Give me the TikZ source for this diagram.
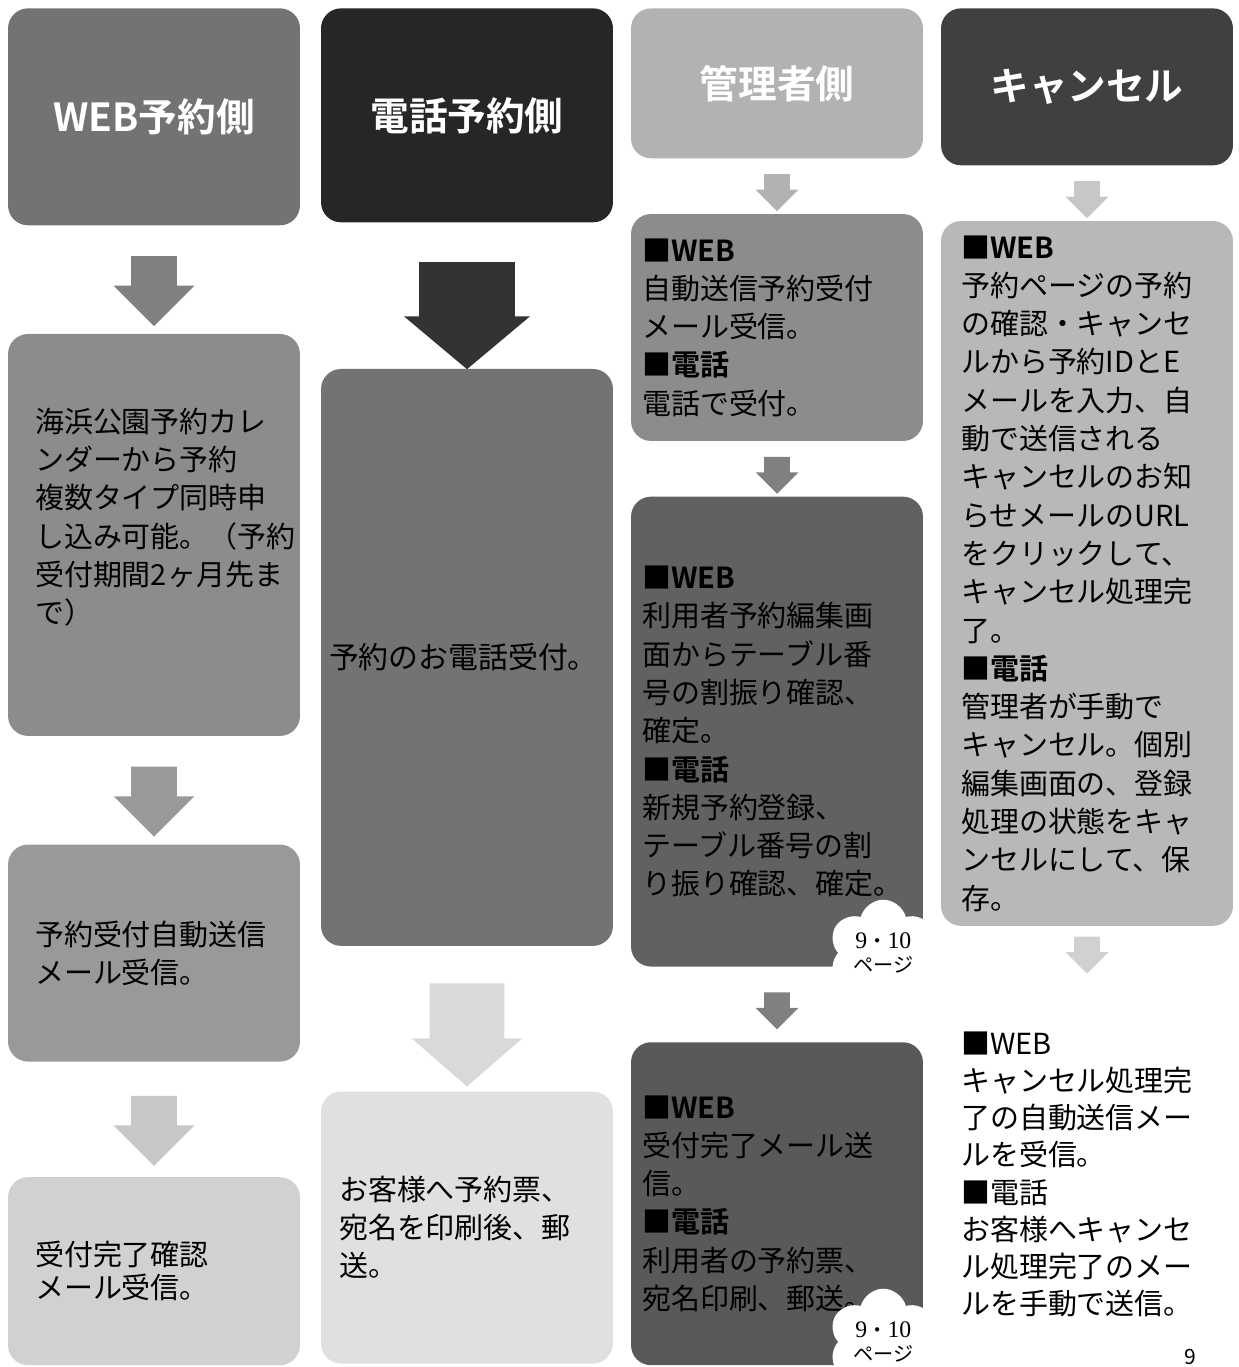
\documentclass[tikz,border=0pt]{standalone}
\usepackage{fontspec}
\setmainfont{Noto Sans CJK JP}[BoldFont={Noto Sans CJK JP Bold}]
\newfontfamily\pagefont{Liberation Serif}
\usetikzlibrary{ % tikz packages
    positioning,calc,
    shapes.arrows,shapes.symbols
}
\tikzset{
    head/.style={
        rounded corners=.4cm,
        minimum width=5.84cm,
        anchor=north,
        text=white,
        font=\fontsize{22}{26}\selectfont\bfseries
    },
    box/.style={
        rounded corners=.4cm,
        minimum width=5.84cm,
        inner xsep=0pt, inner ysep=0pt,
        text width=#1,
        align=left,
        font=\fontsize{16.5}{21.8}\selectfont
    },
    arr/.style={
        single arrow,
        shape border rotate=270,
        inner ysep=0pt
    },
    arrM/.style={arr, inner xsep=.45cm, minimum height=1.4cm, single arrow head extend=.35cm},
    arrL/.style={arr, inner xsep=.95cm, minimum height=2.14cm, single arrow head extend=.3cm, single arrow tip angle=100},
    arrS/.style={arr, inner xsep=.25cm, minimum height=.74cm, single arrow head extend=.17cm},
    pagecloud/.style={
        cloud, cloud puffs=6,
        fill=white, inner sep=0pt,
        minimum width=2.2cm, minimum height=1.6cm,
        align=center,
        font=\fontsize{11.5}{13.5}\selectfont
    }
}
\newcommand{\pagetag}{{\pagefont\fontsize{13.5}{13.5}\selectfont 9}・{\pagefont\fontsize{13.5}{13.5}\selectfont 10}\\ページ}

\begin{document}
\begin{tikzpicture}[x=.02cm,y=-.02cm]
    \useasboundingbox (0,0) rectangle (1239,1367);
    \clip (0,0) rectangle (1239,1367);

    % WEB
    \node[head, fill=black!55, minimum height=4.34cm] (wh) at (154,8) {WEB予約側};
    \node[box=4.76cm, fill=black!45, minimum height=8.04cm] (w1) [below=2.16cm of wh]
        {海浜公園予約カレ\\ンダーから予約\\複数タイプ同時申\\し込み可能。（予約\\受付期間2ヶ月先ま\\で）\\\mbox{}};
    \node[box=4.76cm, fill=black!40, minimum height=4.34cm] (w2) [below=2.16cm of w1]
        {予約受付自動送信\\メール受信。};
    \node[box=4.76cm, fill=black!18, minimum height=3.76cm, font=\fontsize{16.5}{19}\selectfont] (w3) [below=2.3cm of w2]
        {受付完了確認\\メール受信。};
    \node[arrM, fill=black!50] (wa1) at ($(wh.south)!.5!(w1.north)$) {};
    \node[arrM, fill=black!40] (wa2) at ($(w1.south)!.5!(w2.north)$) {};
    \node[arrM, fill=black!22] (wa3) at ($(w2.south)!.5!(w3.north)$) {};

    % tel
    \node[head, fill=black!85, minimum height=4.28cm] (th) at (467,8) {電話予約側};
    \node[box=5.52cm, fill=black!55, minimum height=11.54cm, font=\fontsize{17}{21}\selectfont] (t1) [below=2.92cm of th]
        {予約のお電話受付。};
    \node[box=5.12cm, fill=black!12, minimum height=5.44cm] (t2) [below=2.9cm of t1]
        {お客様へ予約票、\\宛名を印刷後、郵\\送。};
    \node[arrL, fill=black!80] (ta1) at ($(th.south)!.5!(t1.north)$) {};
    \node[arr, fill=black!15, inner xsep=.74cm, minimum height=2.06cm, single arrow head extend=.36cm,
        single arrow tip angle=98] (ta2) at ($(t1.south)!.5!(t2.north)$) {};

    % admin
    \node[head, fill=black!30, minimum height=3cm] (mh) at (777,8) {管理者側};
    \node[box=5.4cm, fill=black!45, minimum height=4.54cm] (m1) [below=1.1cm of mh]
        {\textbf{■WEB}\\自動送信予約受付\\メール受信。\\\textbf{■電話}\\電話で受付。};
    \node[box=5.4cm, fill=black!62, minimum height=9.4cm] (m2) [below=1.1cm of m1]
        {\textbf{■WEB}\\利用者予約編集画\\面からテーブル番\\号の割振り確認、\\確定。\\\textbf{■電話}\\新規予約登録、\\テーブル番号の割\\り振り確認、確定。};
    \node[box=5.4cm, fill=black!65, minimum height=6.46cm] (m3) [below=1.5cm of m2]
        {\textbf{■WEB}\\受付完了メール送\\信。\\\textbf{■電話}\\利用者の予約票、\\宛名印刷、郵送。};
    \node[arrS, fill=black!30] (ma1) at ($(mh.south)!.5!(m1.north)$) {};
    \node[arrS, fill=black!50] (ma2) at ($(m1.south)!.5!(m2.north)$) {};
    \node[arrS, fill=black!50] (ma3) at ($(m2.south)!.5!(m3.north)$) {};
    \node[pagecloud] (p1) at ($(m2.south east)+(-40,-14)$) {\pagetag};
    \node[pagecloud] (p2) at ($(m3.north east)+(-40,300)$) {\pagetag};

    % cancel
    \node[head, fill=black!75, minimum height=3.14cm] (kh) at (1087,8) {キャンセル};
    \node[box=5.04cm, fill=black!28, minimum height=14.1cm] (k1) [below=1.1cm of kh]
        {\textbf{■WEB}\\予約ページの予約\\の確認・キャンセ\\ルから予約IDとE\\メールを入力、自\\動で送信される\\キャンセルのお知\\らせメールのURL\\をクリックして、\\キャンセル処理完\\了。\\\textbf{■電話}\\管理者が手動で\\キャンセル。個別\\編集画面の、登録\\処理の状態をキャ\\ンセルにして、保\\存。};
    \node[arrS, fill=black!22] (ka1) at ($(kh.south)!.5!(k1.north)$) {};
    \node[arrS, fill=black!18] (ka2) [below=.2cm of k1] {};
    \node[align=left, inner sep=0pt, font=\fontsize{16.5}{21.2}\selectfont] (kt)
        [below=2.1cm of k1.south west, anchor=north west, xshift=.4cm]
        {■WEB\\キャンセル処理完\\了の自動送信メー\\ルを受信。\\■電話\\お客様へキャンセ\\ル処理完了のメー\\ルを手動で送信。};

    \node[font=\fontsize{12}{12}\selectfont] (pg) at (1190,1357) {9};
\end{tikzpicture}
\end{document}
